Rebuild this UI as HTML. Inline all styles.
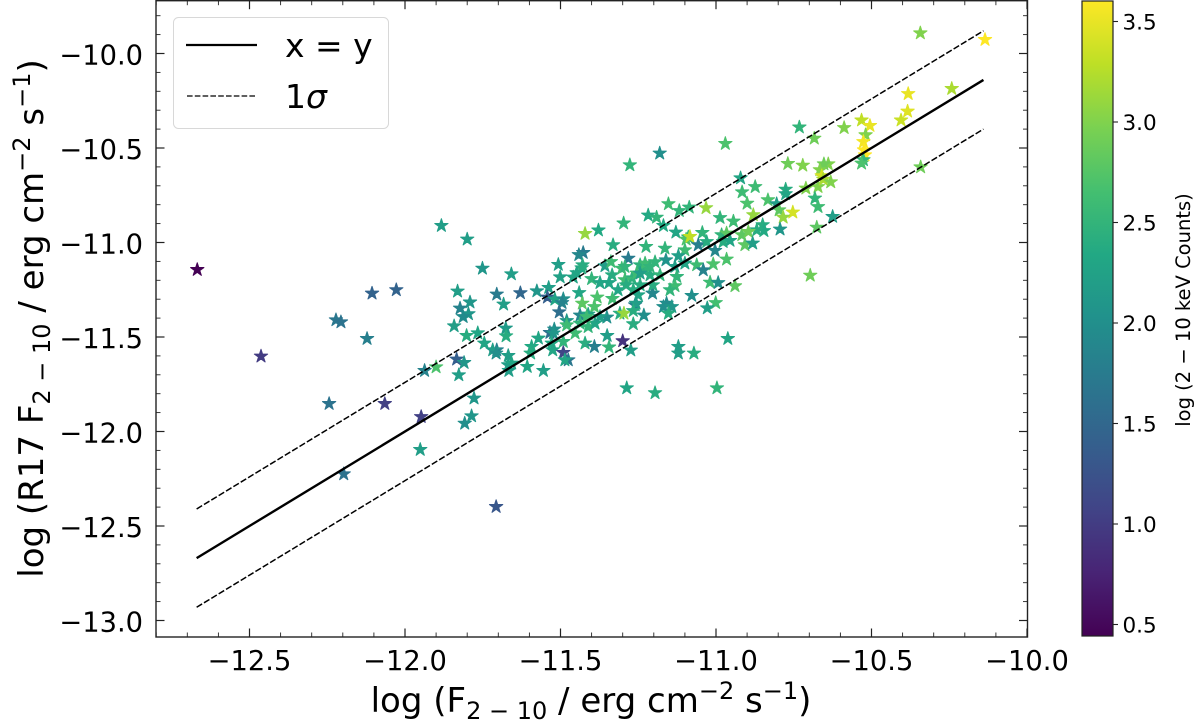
<!DOCTYPE html>
<html lang="en">
<head>
<meta charset="utf-8">
<title>R17 flux comparison</title>
<style>
html,body{margin:0;padding:0;background:#fff}
svg{display:block}
text{font-family:"DejaVu Sans","Liberation Sans",sans-serif;fill:#000}
</style>
</head>
<body>
<svg id="chart" xmlns="http://www.w3.org/2000/svg" width="1200" height="728" viewBox="0 0 1200 728">
  <defs>
    <linearGradient id="viridis" x1="0" y1="1" x2="0" y2="0">
      <stop offset="0" stop-color="#440154"/><stop offset="0.1" stop-color="#482475"/><stop offset="0.2" stop-color="#414487"/><stop offset="0.3" stop-color="#355f8d"/><stop offset="0.4" stop-color="#2a788e"/><stop offset="0.5" stop-color="#21918c"/><stop offset="0.6" stop-color="#22a884"/><stop offset="0.7" stop-color="#44bf70"/><stop offset="0.8" stop-color="#7ad151"/><stop offset="0.9" stop-color="#bddf26"/><stop offset="1" stop-color="#fde725"/>
    </linearGradient>
  </defs>
  <rect width="1200" height="728" fill="#fff"/>
  <g id="points"></g>
  <g id="lines"></g>
  <g id="ticks"></g>
  <rect x="156" y="0.7" width="871.5" height="636.3" fill="none" stroke="#222" stroke-width="1.4"/>

  <g>
    <rect x="173.5" y="17.5" width="215" height="111" rx="5" fill="#fff" fill-opacity="0.8" stroke="#d8d8d8" stroke-width="1"/>
    <line x1="186" y1="45" x2="257" y2="45" stroke="#000" stroke-width="2.2"/>
    <text x="285" y="57" font-size="33">x = y</text>
    <line x1="187" y1="96" x2="256" y2="96" stroke="#000" stroke-width="1.3" stroke-dasharray="5.6 2.2"/>
    <text x="285" y="108" font-size="33">1<tspan font-style="italic">σ</tspan></text>
  </g>

  <text x="591" y="712" font-size="34" text-anchor="middle">log (F<tspan dy="7" font-size="24">2 − 10</tspan><tspan dy="-7"> / erg cm</tspan><tspan dy="-13" font-size="24">−2</tspan><tspan dy="13"> s</tspan><tspan dy="-13" font-size="24">−1</tspan><tspan dy="13">)</tspan></text>
  <text transform="translate(43,318.5) rotate(-90)" font-size="34" text-anchor="middle">log (R17 F<tspan dy="7" font-size="24">2 − 10</tspan><tspan dy="-7"> / erg cm</tspan><tspan dy="-13" font-size="24">−2</tspan><tspan dy="13"> s</tspan><tspan dy="-13" font-size="24">−1</tspan><tspan dy="13">)</tspan></text>

  <g>
    <rect x="1082" y="1" width="31" height="635" fill="url(#viridis)" stroke="#222" stroke-width="1.2"/>
    <g id="cbticks"></g>
    <text transform="translate(1190,310) rotate(-90)" font-size="19.5" text-anchor="middle">log (2 − 10 keV Counts)</text>
  </g>
</svg>
<script>
const pointX = [-11.228,-11.212,-11.196,-11.244,-11.334,-11.27,-11.315,-11.18,
-12.668,-11.883,-12.106,-12.028,-12.222,-12.206,-12.122,-12.463,-11.937,-11.9,-12.244,-12.065,-11.948,-11.951,-12.197,-11.707,-11.808,-11.786,
-11.8,-11.421,-11.378,-11.297,-11.331,-11.427,-11.441,-11.751,-11.658,-11.507,-11.501,-11.429,-11.432,-11.448,-11.357,-11.282,-11.338,-11.303,-11.459,-11.4,-11.373,-11.344,-11.293,-11.255,
-11.831,-11.705,-11.629,-11.576,-11.538,-11.791,-11.823,-11.796,-11.813,-11.683,-11.542,-11.518,-11.491,-11.495,-11.44,-11.382,-11.333,-11.289,-11.266,-11.25,-11.504,-11.43,-11.391,-11.48,-11.437,-11.411,-11.351,-11.309,-11.296,-11.26,-11.266,
-11.842,-11.676,-11.675,-11.802,-11.766,-11.745,-11.705,-11.718,-11.707,-11.668,-11.593,-11.571,-11.596,-11.534,-11.52,-11.523,-11.48,-11.453,-11.437,-11.411,-11.389,-11.416,-11.373,-11.528,-11.525,-11.491,-11.491,-11.475,-11.486,-11.421,-11.391,-11.35,-11.344,-11.3,-11.274,
-11.834,-11.81,-11.827,-11.668,-11.657,-11.666,-11.607,-11.555,-11.778,-11.287,
-10.732,-10.684,-10.97,-11.181,-11.277,-10.769,-10.721,-10.921,-10.874,-10.916,-10.776,-10.776,-10.711,-10.672,-10.682,-10.672,-10.9,-10.833,-10.805,-10.797,-10.753,-10.784,-10.88,-11.032,-11.086,-11.118,-11.153,-11.218,-11.191,-11.169,-10.987,-10.944,-10.85,-10.846,-10.869,-10.794,-10.676,
-11.129,-11.044,-11.089,-11.096,-11.084,-10.982,-10.966,-10.917,-10.896,-11.057,-11.03,-10.977,-10.955,-10.907,-10.882,-11.225,-11.164,-11.1,-11.003,-11.161,-11.121,-10.966,-11.062,-11.009,-11.132,-11.1,-11.228,-11.212,-11.293,-11.041,-11.244,-11.126,-11.019,-10.993,-11.132,-10.939,-11.148,-11.204,-11.244,-11.203,-11.078,-11.159,-11.169,-11.142,-11.257,-11.001,-11.028,-11.266,-11.232,-11.153,-10.697,-10.962,-11.121,-11.121,-11.071,-10.997,-11.196,
-10.343,-10.135,-10.242,-10.382,-10.384,-10.405,-10.532,-10.505,-10.588,-10.519,-10.526,-10.524,-10.521,-10.526,-10.532,-10.342,-10.639,-10.653,-10.666,-10.66,-10.655,-10.631,-10.625];

const pointY = [-11.146,-11.172,-11.103,-11.119,-11.172,-11.188,-11.251,-11.172,
-11.144,-10.911,-11.269,-11.251,-11.41,-11.421,-11.509,-11.602,-11.678,-11.659,-11.853,-11.853,-11.922,-12.096,-12.225,-12.398,-11.957,-11.918,
-10.983,-10.953,-10.935,-10.898,-11.013,-11.054,-11.065,-11.137,-11.167,-11.117,-11.183,-11.119,-11.135,-11.161,-11.124,-11.084,-11.102,-11.137,-11.184,-11.192,-11.213,-11.213,-11.198,-11.163,
-11.258,-11.274,-11.267,-11.257,-11.239,-11.316,-11.348,-11.378,-11.393,-11.327,-11.29,-11.301,-11.299,-11.319,-11.266,-11.29,-11.297,-11.225,-11.251,-11.278,-11.368,-11.322,-11.34,-11.414,-11.385,-11.38,-11.396,-11.375,-11.375,-11.331,-11.431,
-11.442,-11.454,-11.495,-11.493,-11.479,-11.533,-11.569,-11.569,-11.586,-11.599,-11.551,-11.507,-11.586,-11.477,-11.459,-11.48,-11.437,-11.48,-11.428,-11.446,-11.428,-11.393,-11.393,-11.533,-11.569,-11.525,-11.583,-11.622,-11.622,-11.533,-11.551,-11.493,-11.554,-11.521,-11.57,
-11.618,-11.636,-11.701,-11.648,-11.639,-11.678,-11.657,-11.678,-11.824,-11.77,
-10.39,-10.449,-10.477,-10.528,-10.59,-10.583,-10.592,-10.659,-10.705,-10.733,-10.719,-10.743,-10.713,-10.705,-10.766,-10.811,-10.793,-10.775,-10.796,-10.828,-10.84,-10.867,-10.854,-10.817,-10.814,-10.832,-10.796,-10.856,-10.867,-10.911,-10.869,-10.888,-10.907,-10.938,-10.934,-10.93,-10.92,
-10.946,-10.948,-10.972,-10.983,-10.969,-10.96,-10.951,-10.96,-10.943,-11.013,-10.996,-10.996,-10.99,-11.013,-11.004,-11.022,-11.031,-11.04,-11.043,-11.093,-11.071,-11.089,-11.119,-11.114,-11.128,-11.11,-11.11,-11.128,-11.128,-11.146,-11.163,-11.181,-11.211,-11.213,-11.23,-11.23,-11.251,-11.269,-11.225,-11.225,-11.281,-11.322,-11.34,-11.34,-11.322,-11.319,-11.347,-11.361,-11.385,-11.375,-11.174,-11.509,-11.551,-11.586,-11.586,-11.77,-11.796,
-9.892,-9.927,-10.186,-10.213,-10.306,-10.353,-10.353,-10.382,-10.393,-10.431,-10.467,-10.511,-10.537,-10.563,-10.581,-10.601,-10.585,-10.585,-10.616,-10.648,-10.666,-10.68,-10.863];

const pointCounts = [2.5,2.4,2.5,2.45,2.4,2.45,2.3,2.5,
0.45,2.2,1.45,1.45,1.7,1.65,1.8,1.0,1.85,2.7,1.65,1.05,1.05,2.2,1.65,1.3,2.0,2.1,
2.2,3.1,2.35,2.5,2.4,1.75,1.9,2.1,2.2,2.2,2.25,2.4,2.4,2.3,2.2,1.75,2.6,2.6,2.3,2.5,2.3,2.3,2.6,2.6,
2.2,1.75,1.5,2.1,2.2,2.1,1.85,2.1,1.95,2.2,1.4,2.3,2.0,1.85,2.3,2.7,2.6,2.4,2.4,2.3,1.6,2.8,2.7,2.1,1.9,2.3,2.0,2.4,3.1,1.8,2.4,
2.2,2.15,2.4,2.4,2.3,2.3,1.85,2.2,2.0,2.2,2.35,2.3,2.4,1.6,2.0,2.1,2.6,2.6,2.5,2.5,2.3,2.6,2.2,2.35,2.3,2.5,1.1,1.7,2.3,2.4,1.8,2.2,2.5,0.9,2.2,
1.4,2.1,2.2,2.2,2.3,2.2,2.3,2.2,2.1,2.3,
2.5,2.9,2.7,2.0,2.5,2.9,3.0,2.3,2.6,2.6,2.4,2.3,3.0,3.0,2.5,2.6,2.7,2.7,2.2,2.8,3.4,3.1,3.1,3.1,2.5,2.5,2.6,2.35,2.5,2.35,2.5,2.6,2.4,2.35,2.4,2.1,2.8,
2.3,2.5,2.5,2.7,3.3,2.5,2.8,2.8,2.9,1.8,2.4,2.4,2.3,2.8,2.2,2.5,2.5,2.6,1.9,2.05,2.2,2.7,2.6,2.7,2.2,2.3,2.6,2.5,2.5,1.85,2.2,2.5,2.6,2.0,2.6,2.8,2.5,1.9,2.4,2.4,2.0,1.95,2.0,2.1,2.2,2.65,2.2,2.4,2.0,2.4,2.9,2.3,2.2,2.2,2.4,2.5,2.4,
3.0,3.6,3.2,3.5,3.45,3.35,3.3,3.5,3.0,3.0,3.55,3.6,3.6,2.5,2.7,2.9,3.0,2.9,3.0,3.4,3.2,3.0,2.2];

const identityLine = [-12.67, -10.14];
const sigmaOffset = 0.26;
const xTickValues = [-12.5, -12, -11.5, -11, -10.5, -10];
const xTickLabels = ['−12.5','−12.0','−11.5','−11.0','−10.5','−10.0'];
const yTickValues = [-13, -12.5, -12, -11.5, -11, -10.5, -10];
const yTickLabels = ['−13.0','−12.5','−12.0','−11.5','−11.0','−10.5','−10.0'];
const colorbarTicks = [0.5, 1, 1.5, 2, 2.5, 3, 3.5];
const colorbarLabels = ['0.5','1.0','1.5','2.0','2.5','3.0','3.5'];

const NS = 'http://www.w3.org/2000/svg';
const xScale = v => 249.5 + (v + 12.5) * 311;
const yScale = v => 53.5 + (-10 - v) * 189;
const cbScale = v => 21.5 + (3.5 - v) * 201;
const cMin = 0.45, cMax = 3.6;
const stops = [[68,1,84],[72,36,117],[65,68,135],[53,95,141],[42,120,142],[33,145,140],[34,168,132],[68,191,112],[122,209,81],[189,223,38],[253,231,37]];

function viridis(v) {
  const t = Math.max(0, Math.min(1, (v - cMin) / (cMax - cMin))) * 10;
  const i = Math.min(9, Math.floor(t));
  const f = t - i;
  const rgb = stops[i].map((a, k) => Math.round(a + (stops[i + 1][k] - a) * f));
  return 'rgb(' + rgb.join(',') + ')';
}
function make(tag, parent, attrs) {
  const el = document.createElementNS(NS, tag);
  for (const k in attrs) el.setAttribute(k, attrs[k]);
  parent.appendChild(el);
  return el;
}
function starPath(cx, cy, R) {
  const r = R * 0.381966;
  let d = '';
  for (let i = 0; i < 10; i++) {
    const a = -Math.PI / 2 + i * Math.PI / 5;
    const q = i % 2 ? r : R;
    d += (i ? 'L' : 'M') + (cx + q * Math.cos(a)).toFixed(2) + ' ' + (cy + q * Math.sin(a)).toFixed(2);
  }
  return d + 'Z';
}

const pointsG = document.getElementById('points');
pointX.forEach((x, i) => {
  const col = viridis(pointCounts[i]);
  const star = make('path', pointsG, {
    d: starPath(xScale(x), yScale(pointY[i]), 7),
    fill: col, stroke: col, 'stroke-width': 1, 'stroke-linejoin': 'round'
  });
  
  
});

const linesG = document.getElementById('lines');
[[0, 2.4, 'none', 'identity-line'], [sigmaOffset, 1.5, '6.4 2.2', 'upper-sigma-line'], [-sigmaOffset, 1.5, '6.4 2.2', 'lower-sigma-line']].forEach(cfg => {
  const ln = make('line', linesG, {
    x1: xScale(identityLine[0]), y1: yScale(identityLine[0] + cfg[0]),
    x2: xScale(identityLine[1]), y2: yScale(identityLine[1] + cfg[0]),
    stroke: '#000', 'stroke-width': cfg[1], 'stroke-dasharray': cfg[2]
  });
  
  
});

const ticksG = document.getElementById('ticks');
function addTick(x1, y1, x2, y2, w) {
  const t = make('line', ticksG, { x1: x1, y1: y1, x2: x2, y2: y2, stroke: '#222', 'stroke-width': w });
  
  
}
const pT = 0.7, pB = 637, pL = 156, pR = 1027.5;
for (let k = -128; k <= -100; k++) {
  const v = k / 10;
  const major = k % 5 === 0;
  const len = major ? 8.5 : 4.5;
  const w = major ? 1.2 : 0.9;
  const x = xScale(v);
  addTick(x, pB, x, pB - len, w);
  addTick(x, pT, x, pT + len, w);
}
for (let k = -131; k <= -97; k++) {
  const v = k / 10;
  const major = k % 5 === 0;
  const len = major ? 8.5 : 4.5;
  const w = major ? 1.2 : 0.9;
  const y = yScale(v);
  if (y < pT || y > pB) continue;
  addTick(pL, y, pL + len, y, w);
  addTick(pR, y, pR - len, y, w);
}
xTickValues.forEach((v, i) => {
  const t = make('text', ticksG, { x: xScale(v), y: 670, 'font-size': 27.3, 'text-anchor': 'middle' });
  t.textContent = xTickLabels[i];
  
  
});
yTickValues.forEach((v, i) => {
  const t = make('text', ticksG, { x: 143, y: yScale(v) + 11, 'font-size': 27.3, 'text-anchor': 'end' });
  t.textContent = yTickLabels[i];
  
  
});

const cbG = document.getElementById('cbticks');
colorbarTicks.forEach((v, i) => {
  const y = cbScale(v);
  const m = make('line', cbG, { x1: 1113, y1: y, x2: 1118, y2: y, stroke: '#222', 'stroke-width': 1.1 });
  
  
  const t = make('text', cbG, { x: 1122.5, y: y + 8, 'font-size': 21.5 });
  t.textContent = colorbarLabels[i];
  
  
});
</script>
</body>
</html>
